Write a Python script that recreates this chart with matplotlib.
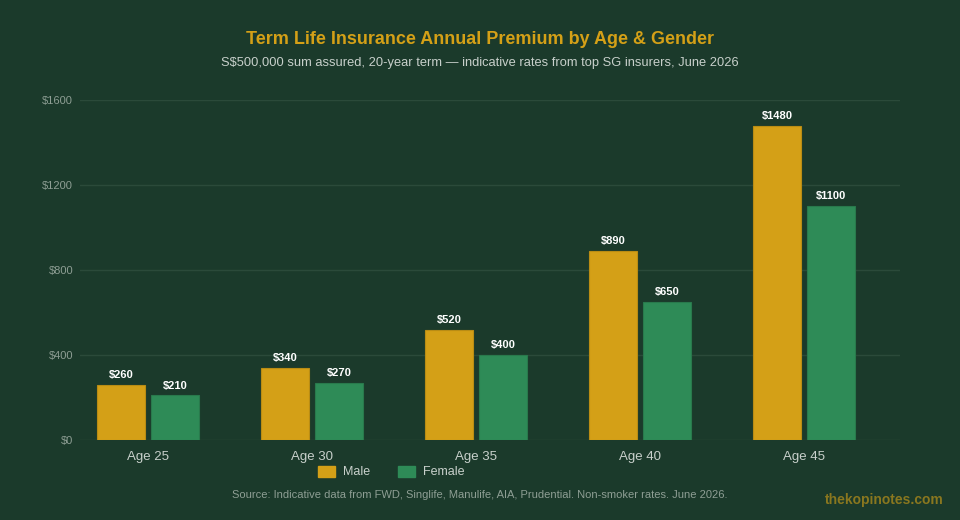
import matplotlib.pyplot as plt
import numpy as np
from matplotlib.patches import Patch

plt.rcParams['font.family'] = ['Liberation Sans', 'DejaVu Sans']

ages = ['Age 25', 'Age 30', 'Age 35', 'Age 40', 'Age 45']
male = [260, 340, 520, 890, 1480]
female = [210, 270, 400, 650, 1100]
yticks = [0, 400, 800, 1200, 1600]

BG = '#1b3a2b'
GOLD = '#d4a017'
GREEN = '#2e8b57'

fig = plt.figure(figsize=(9.6, 5.2), dpi=100, facecolor=BG)
ax = fig.add_axes([80/960, 1-440/520, 820/960, 340/520], facecolor=BG)

x = np.arange(len(ages))
w = 0.293
off = 0.165
b1 = ax.bar(x - off, male, w, color=GOLD, edgecolor='#b98c14', linewidth=0.8, label='Male', zorder=3)
b2 = ax.bar(x + off, female, w, color=GREEN, edgecolor='#29794c', linewidth=0.8, label='Female', zorder=3)

# value labels on top of bars
for bars, vals in [(b1, male), (b2, female)]:
    for r, v in zip(bars, vals):
        ax.annotate('$%d' % v, (r.get_x() + r.get_width()/2, v), xytext=(0, 3.5),
                    textcoords='offset points', ha='center', va='bottom',
                    color='white', fontsize=8, fontweight='bold')

ax.set_xlim(-0.415, 4.585)
ax.set_ylim(0, 1600)
ax.set_yticks(yticks)
ax.set_yticklabels(['$%d' % t for t in yticks])
ax.set_xticks(x)
ax.set_xticklabels(ages)
ax.tick_params(axis='y', length=0, pad=5, labelcolor='#8e9e94', labelsize=8)
ax.tick_params(axis='x', length=0, pad=8, labelcolor='#c8d0cb', labelsize=9.5)
ax.grid(axis='y', color='#2b4a3a', linewidth=1, zorder=0)
for s in ax.spines.values():
    s.set_visible(False)

fig.text(0.5, 1-39/520, 'Term Life Insurance Annual Premium by Age & Gender', ha='center', va='center',
         color=GOLD, fontsize=13, fontweight='bold')
fig.text(0.5, 1-63/520, 'S$500,000 sum assured, 20-year term \u2014 indicative rates from top SG insurers, June 2026',
         ha='center', va='center', color='#c8d0cb', fontsize=9.3)

handles = [Patch(color=GOLD, label='Male'), Patch(color=GREEN, label='Female')]
fig.legend(handles=handles, loc='center', bbox_to_anchor=(391/960, 1-472/520), ncol=2, frameon=False,
           fontsize=9, labelcolor='#c8d0cb', handlelength=1.4, handleheight=1.0, columnspacing=2.2,
           handletextpad=0.6)

fig.text(0.5, 1-495/520, 'Source: Indicative data from FWD, Singlife, Manulife, AIA, Prudential. Non-smoker rates. June 2026.',
         ha='center', va='center', color='#8e9e94', fontsize=8)
fig.text(944/960, 1-500/520, 'thekopinotes.com', ha='right', va='center', color=GOLD, alpha=0.6,
         fontsize=10, fontweight='bold')

fig.savefig('out.png', dpi=100, facecolor=BG)
